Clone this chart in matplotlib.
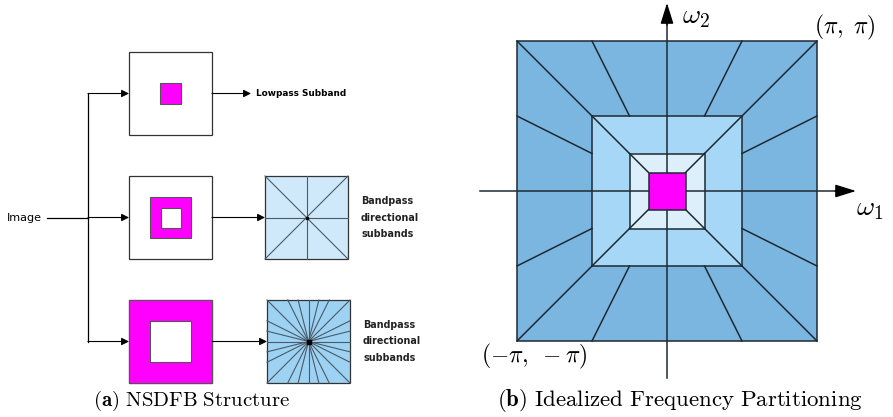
import numpy as np
import matplotlib.pyplot as plt
from matplotlib.patches import Rectangle

plt.rcParams['mathtext.fontset'] = 'cm'

# ---- panel (a): NSDFB structure (pixel layout) ----
box_x = 129
box_size = 83
box_tops = [52, 176, 300]          # lowpass, band 1, band 2
hole_outer = [21, 41, 83]          # magenta square size in each box
hole_inner = [0, 20, 41]           # white hole inside magenta
dir_box_x = [265, 267]
dir_box_tops = [176, 300]
dir_fill = ['#cfe9fa', '#9dd2f3']
dir_offsets = [[0.0, 1.0], [0.0, 0.25, 0.5, 1.0]]   # edge points of directional lines
side_labels = ['Bandpass\ndirectional\nsubbands'] * 2
lowpass_label = 'Lowpass Subband'
input_label = 'Image'

# ---- panel (b): idealized frequency partitioning ----
center = (667, 191)
half = [150, 75, 37.5, 18.5]
ring_fill = ['#7ab6e0', '#a6d7f7', '#ddeffb', '#ff00ff']
outer_spokes = [-0.5, 0.5]

line_col = '#1e2a33'
box_line = '#4a5a68'

fig = plt.figure(figsize=(8.93, 4.17), dpi=100)
ax = fig.add_axes([0, 0, 1, 1])
ax.set_xlim(0, 893)
ax.set_ylim(417, 0)
ax.axis('off')

arrow = dict(arrowstyle='-|>', color='black', lw=0.8, mutation_scale=11, shrinkA=0, shrinkB=0)

# filter boxes
for i, top in enumerate(box_tops):
    cx = box_x + box_size / 2
    cy = top + box_size / 2
    ax.add_patch(Rectangle((box_x, top), box_size, box_size, fc='white', ec='#333333', lw=0.9))
    s = hole_outer[i]
    ax.add_patch(Rectangle((cx - s / 2, cy - s / 2), s, s, fc='#ff00ff', ec='#555555', lw=0.8))
    if hole_inner[i] > 0:
        h = hole_inner[i]
        ax.add_patch(Rectangle((cx - h / 2, cy - h / 2), h, h, fc='white', ec='#555555', lw=0.8))

# input line and branches
ymid = [t + box_size / 2 for t in box_tops]
ax.plot([88, 88], [ymid[0], ymid[2]], color='black', lw=0.9)
ax.plot([47, 88], [ymid[1], ymid[1]], color='black', lw=0.9)
for y in ymid:
    ax.annotate('', xy=(box_x, y), xytext=(88, y), arrowprops=arrow)
ax.text(7, ymid[1], input_label, fontsize=8, va='center', ha='left', family='DejaVu Sans')

# lowpass output
ax.annotate('', xy=(251, ymid[0]), xytext=(box_x + box_size, ymid[0]), arrowprops=arrow)
ax.text(256, ymid[0], lowpass_label, fontsize=6.4, fontweight='bold', va='center', ha='left')

# directional filter banks
for j in range(2):
    x0 = dir_box_x[j]
    y0 = dir_box_tops[j]
    cx = x0 + box_size / 2
    cy = y0 + box_size / 2
    r = box_size / 2
    ax.annotate('', xy=(x0, cy), xytext=(box_x + box_size, cy), arrowprops=arrow)
    ax.add_patch(Rectangle((x0, y0), box_size, box_size, fc=dir_fill[j], ec='#333333', lw=0.9))
    for t in dir_offsets[j]:
        for sgn in ([1, -1] if t > 0 else [1]):
            # top/bottom edge
            ax.plot([cx + sgn * t * r, cx - sgn * t * r], [cy - r, cy + r], color=box_line, lw=0.8)
            # left/right edge
            if t < 1.0:
                ax.plot([cx - r, cx + r], [cy + sgn * t * r, cy - sgn * t * r], color=box_line, lw=0.8)
    ax.plot(cx, cy, 's', color='black', ms=2 + j)
    ax.text(x0 + box_size + 13, cy, side_labels[j], fontsize=6.9, fontweight='bold',
            va='center', ha='left', linespacing=1.8, color='#222222')

ax.text(192, 401, r'$\mathbf{(a)}\ \mathrm{NSDFB\ Structure}$', fontsize=15, ha='center', va='center')

# ---- panel (b) ----
cx, cy = center
for k in range(3):
    h = half[k]
    ax.add_patch(Rectangle((cx - h, cy - h), 2 * h, 2 * h, fc=ring_fill[k], ec=line_col, lw=1.1, zorder=2))

# spokes in outer ring (radial)
for t in outer_spokes:
    for (sx, sy) in [(t, -1), (t, 1), (-1, t), (1, t)]:
        ax.plot([cx + sx * half[0], cx + sx * half[1]], [cy + sy * half[0], cy + sy * half[1]],
                color=line_col, lw=1.1, zorder=3)
# corner lines through all rings
for sx in [-1, 1]:
    for sy in [-1, 1]:
        for a, b in [(0, 1), (1, 2), (2, 3)]:
            ax.plot([cx + sx * half[a], cx + sx * half[b]], [cy + sy * half[a], cy + sy * half[b]],
                    color=line_col, lw=1.1, zorder=3)

# frequency axes
ax.plot([480, 845], [cy, cy], color=line_col, lw=1.1, zorder=3)
ax.plot([cx, cx], [378, 14], color=line_col, lw=1.1, zorder=3)
head = dict(arrowstyle='-|>,head_length=0.8,head_width=0.25', color='black', lw=1.0,
            mutation_scale=16, shrinkA=0, shrinkB=0)
ax.annotate('', xy=(856, cy), xytext=(835, cy), arrowprops=head, zorder=4)
ax.annotate('', xy=(cx, 3), xytext=(cx, 25), arrowprops=head, zorder=4)

h = half[3]
ax.add_patch(Rectangle((cx - h, cy - h), 2 * h, 2 * h, fc=ring_fill[3], ec=line_col, lw=1.1, zorder=5))

ax.text(682, 16, r'$\omega_2$', fontsize=20, ha='left', va='center')
ax.text(856, 208, r'$\omega_1$', fontsize=20, ha='left', va='center')
ax.text(845, 27, r'$(\pi,\;\pi)$', fontsize=17, ha='center', va='center')
ax.text(534, 356, r'$(-\pi,\;-\pi)$', fontsize=17, ha='center', va='center')

ax.text(680, 401, r'$\mathbf{(b)}\ \mathrm{Idealized\ Frequency\ Partitioning}$', fontsize=16.5,
        ha='center', va='center')

fig.savefig('out.png', dpi=100)
